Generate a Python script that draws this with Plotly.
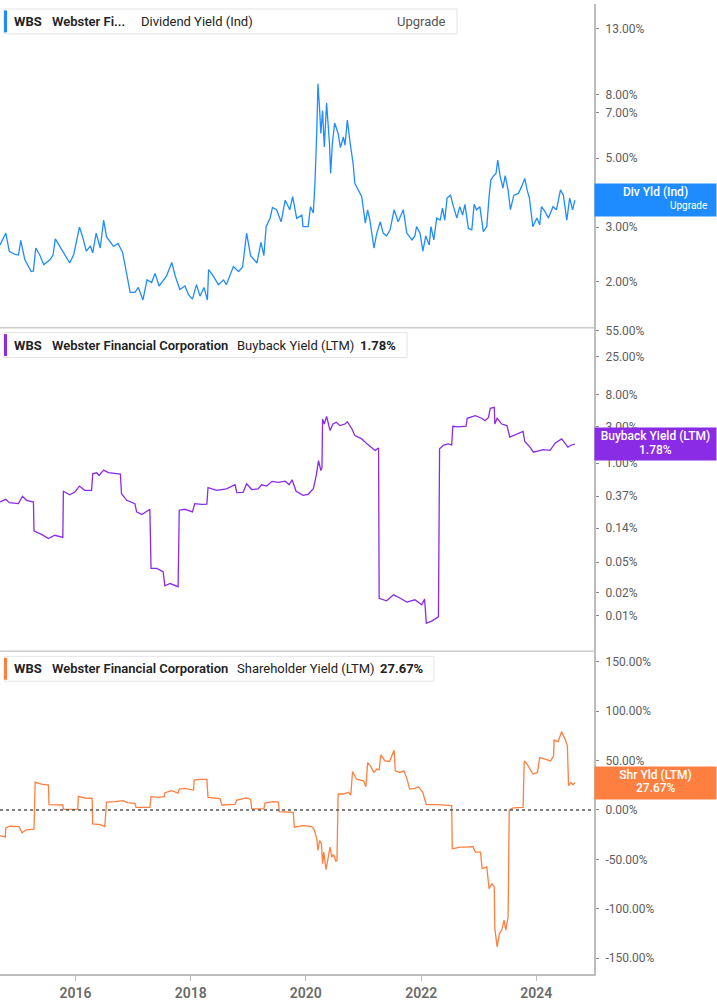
import numpy as np
import pandas as pd
import plotly.graph_objects as go

# Webster Financial Corporation (WBS) - dates as decimal years, values in %

# Dividend Yield (Ind)
div_years = [2014.69, 2014.79, 2014.85, 2014.95, 2015.01, 2015.05, 2015.12, 2015.23, 2015.27, 2015.31,
             2015.38, 2015.45, 2015.56, 2015.61, 2015.65, 2015.73, 2015.80, 2015.85, 2015.90, 2015.97,
             2016.07, 2016.12, 2016.19, 2016.26, 2016.30, 2016.36, 2016.43, 2016.49, 2016.54, 2016.66,
             2016.74, 2016.82, 2016.88, 2016.95, 2017.03, 2017.09, 2017.17, 2017.24, 2017.32, 2017.38,
             2017.45, 2017.52, 2017.58, 2017.67, 2017.73, 2017.81, 2017.90, 2017.96, 2018.03, 2018.10,
             2018.16, 2018.23, 2018.29, 2018.31, 2018.39, 2018.48, 2018.57, 2018.62, 2018.74, 2018.83,
             2018.90, 2018.97, 2019.04, 2019.15, 2019.22, 2019.27, 2019.31, 2019.38, 2019.42, 2019.49,
             2019.57, 2019.64, 2019.72, 2019.77, 2019.84, 2019.93, 2019.95, 2020.04, 2020.08, 2020.13,
             2020.16, 2020.19, 2020.21, 2020.24, 2020.26, 2020.29, 2020.32, 2020.36, 2020.41, 2020.43,
             2020.46, 2020.50, 2020.56, 2020.60, 2020.65, 2020.68, 2020.72, 2020.77, 2020.80, 2020.82,
             2020.85, 2020.91, 2020.97, 2021.03, 2021.07, 2021.11, 2021.18, 2021.23, 2021.29, 2021.34,
             2021.40, 2021.46, 2021.53, 2021.60, 2021.69, 2021.75, 2021.84, 2021.89, 2021.92, 2021.98,
             2022.03, 2022.08, 2022.14, 2022.17, 2022.22, 2022.27, 2022.33, 2022.37, 2022.41, 2022.45,
             2022.51, 2022.56, 2022.62, 2022.67, 2022.72, 2022.76, 2022.82, 2022.88, 2022.92, 2022.96,
             2023.02, 2023.08, 2023.14, 2023.18, 2023.21, 2023.26, 2023.30, 2023.33, 2023.37, 2023.42,
             2023.46, 2023.51, 2023.55, 2023.61, 2023.69, 2023.75, 2023.80, 2023.84, 2023.88, 2023.94,
             2024.01, 2024.06, 2024.09, 2024.15, 2024.21, 2024.29, 2024.35, 2024.42, 2024.47, 2024.53,
             2024.58, 2024.63, 2024.67]
div_vals = [2.63, 2.87, 2.51, 2.45, 2.44, 2.72, 2.36, 2.16, 2.17, 2.57,
            2.44, 2.27, 2.36, 2.44, 2.75, 2.60, 2.45, 2.37, 2.30, 2.45,
            3.00, 2.81, 2.51, 2.61, 2.48, 2.87, 2.57, 3.16, 2.79, 2.60,
            2.66, 2.48, 2.14, 1.85, 1.85, 1.92, 1.75, 2.03, 1.99, 2.13,
            1.94, 2.03, 2.09, 2.31, 2.09, 1.89, 1.94, 1.82, 1.76, 1.96,
            1.80, 1.92, 1.75, 2.19, 2.09, 1.96, 2.03, 1.96, 2.24, 2.16,
            2.23, 2.87, 2.43, 2.30, 2.68, 2.43, 3.01, 3.21, 3.47, 3.41,
            3.12, 3.66, 3.41, 3.76, 3.20, 3.28, 3.01, 3.01, 3.49, 3.33,
            4.25, 6.14, 8.67, 7.11, 6.00, 7.11, 5.43, 7.52, 5.57, 4.46,
            5.57, 6.48, 6.00, 5.40, 5.85, 5.50, 6.62, 5.57, 5.17, 4.81,
            4.15, 3.95, 3.76, 3.09, 3.41, 3.16, 2.57, 2.87, 3.12, 2.87,
            2.81, 2.94, 3.41, 3.12, 3.41, 2.87, 2.73, 2.81, 3.01, 2.87,
            2.51, 2.81, 2.63, 3.01, 2.73, 3.21, 3.16, 3.45, 3.16, 3.72,
            3.80, 3.49, 3.21, 3.49, 3.28, 3.55, 2.97, 2.94, 3.55, 3.41,
            3.49, 2.90, 3.01, 3.76, 4.25, 4.39, 4.46, 4.93, 4.39, 4.00,
            4.39, 3.95, 3.41, 3.80, 3.85, 4.07, 4.30, 3.95, 3.72, 3.01,
            3.21, 3.05, 3.49, 3.37, 3.21, 3.49, 3.41, 3.95, 3.80, 3.16,
            3.72, 3.41, 3.66]

# Buyback Yield (LTM)
bb_years = [2014.69, 2014.79, 2014.85, 2015.01, 2015.08, 2015.15, 2015.27, 2015.28, 2015.41, 2015.53,
            2015.64, 2015.78, 2015.79, 2015.90, 2015.99, 2016.07, 2016.16, 2016.28, 2016.30, 2016.37,
            2016.41, 2016.49, 2016.57, 2016.78, 2016.80, 2016.89, 2017.03, 2017.06, 2017.15, 2017.24,
            2017.29, 2017.31, 2017.41, 2017.52, 2017.55, 2017.64, 2017.78, 2017.80, 2017.90, 2018.03,
            2018.07, 2018.19, 2018.28, 2018.30, 2018.45, 2018.62, 2018.77, 2018.80, 2018.91, 2018.97,
            2019.06, 2019.17, 2019.23, 2019.32, 2019.41, 2019.52, 2019.64, 2019.71, 2019.76, 2019.83,
            2019.95, 2020.04, 2020.13, 2020.18, 2020.22, 2020.26, 2020.28, 2020.29, 2020.32, 2020.36,
            2020.42, 2020.47, 2020.53, 2020.59, 2020.68, 2020.72, 2020.80, 2020.85, 2020.97, 2021.06,
            2021.14, 2021.20, 2021.26, 2021.27, 2021.40, 2021.52, 2021.63, 2021.75, 2021.89, 2022.01,
            2022.06, 2022.09, 2022.19, 2022.30, 2022.32, 2022.39, 2022.47, 2022.53, 2022.55, 2022.65,
            2022.78, 2022.80, 2022.94, 2023.05, 2023.11, 2023.17, 2023.20, 2023.27, 2023.28, 2023.32,
            2023.40, 2023.49, 2023.54, 2023.66, 2023.77, 2023.80, 2023.89, 2023.95, 2024.06, 2024.12,
            2024.24, 2024.33, 2024.44, 2024.55, 2024.61, 2024.67]
bb_vals = [0.309, 0.335, 0.303, 0.294, 0.367, 0.325, 0.309, 0.128, 0.116, 0.1025,
           0.113, 0.106, 0.427, 0.385, 0.418, 0.50, 0.44, 0.44, 0.725, 0.747,
           0.69, 0.81, 0.75, 0.718, 0.397, 0.325, 0.294, 0.229, 0.211, 0.233,
           0.248, 0.0416, 0.0416, 0.0376, 0.0245, 0.0263, 0.0239, 0.241, 0.248, 0.229,
           0.294, 0.287, 0.29, 0.476, 0.44, 0.46, 0.52, 0.41, 0.414, 0.536,
           0.45, 0.46, 0.52, 0.50, 0.577, 0.56, 0.58, 0.52, 0.605, 0.427,
           0.378, 0.39, 0.461, 0.69, 1.08, 0.80, 0.88, 3.79, 3.26, 4.11,
           2.68, 3.26, 3.44, 3.11, 3.26, 3.50, 2.81, 2.30, 2.08, 1.79,
           1.62, 1.47, 1.58, 0.0168, 0.0156, 0.0187, 0.0170, 0.0150, 0.0161, 0.0138,
           0.0164, 0.0079, 0.0085, 0.0096, 1.54, 1.73, 1.79, 1.73, 3.05, 3.00,
           3.05, 3.88, 4.20, 3.88, 3.60, 3.98, 5.24, 5.40, 3.26, 3.88,
           3.26, 3.11, 2.19, 2.42, 2.60, 1.92, 1.62, 1.39, 1.47, 1.50,
           1.47, 1.84, 2.08, 1.62, 1.73, 1.78]

# Shareholder Yield (LTM)
shy_years = [2014.69, 2014.78, 2014.79, 2014.86, 2015.02, 2015.07, 2015.15, 2015.28, 2015.30, 2015.41,
             2015.53, 2015.54, 2015.78, 2015.79, 2016.04, 2016.05, 2016.16, 2016.29, 2016.30, 2016.43,
             2016.51, 2016.54, 2016.69, 2016.83, 2016.90, 2017.03, 2017.05, 2017.29, 2017.31, 2017.44,
             2017.54, 2017.55, 2017.67, 2017.78, 2017.80, 2017.90, 2018.05, 2018.06, 2018.16, 2018.28,
             2018.30, 2018.51, 2018.54, 2018.77, 2018.80, 2018.97, 2019.04, 2019.06, 2019.27, 2019.29,
             2019.43, 2019.52, 2019.54, 2019.78, 2019.80, 2019.95, 2020.10, 2020.14, 2020.19, 2020.21,
             2020.24, 2020.27, 2020.29, 2020.31, 2020.35, 2020.39, 2020.42, 2020.45, 2020.48, 2020.52,
             2020.54, 2020.56, 2020.65, 2020.74, 2020.78, 2020.81, 2020.88, 2021.00, 2021.04, 2021.07,
             2021.12, 2021.18, 2021.23, 2021.27, 2021.30, 2021.37, 2021.45, 2021.49, 2021.53, 2021.55,
             2021.63, 2021.70, 2021.75, 2021.80, 2021.89, 2021.95, 2022.03, 2022.06, 2022.09, 2022.27,
             2022.44, 2022.53, 2022.54, 2022.68, 2022.79, 2022.90, 2022.94, 2023.03, 2023.06, 2023.14,
             2023.18, 2023.23, 2023.27, 2023.28, 2023.32, 2023.36, 2023.40, 2023.44, 2023.47, 2023.51,
             2023.53, 2023.60, 2023.77, 2023.79, 2023.84, 2023.94, 2024.02, 2024.06, 2024.15, 2024.25,
             2024.30, 2024.31, 2024.38, 2024.44, 2024.50, 2024.54, 2024.56, 2024.60, 2024.64, 2024.67]
shy_vals = [-25.9, -27.6, -18.1, -16.5, -16.8, -23.2, -20.1, -19.5, 28.2, 26.2,
            25.2, 5.3, 5.0, 0.6, 0.6, 13.7, 12.1, 11.7, -14.1, -14.8,
            -16.8, 8.0, 8.4, 9.4, 7.4, 6.7, 2.7, 2.7, 13.4, 12.8,
            13.4, 17.4, 19.5, 17.1, 21.1, 21.8, 20.1, 30.2, 30.9, 30.9,
            12.7, 11.4, 5.0, 5.7, 10.0, 12.1, 10.7, 1.0, 1.0, 7.0,
            8.4, 8.0, -1.7, -2.4, -17.5, -15.8, -16.8, -19.2, -29.2, -41.0,
            -30.9, -34.3, -54.4, -42.7, -60.4, -47.7, -37.7, -47.7, -45.0, -51.7,
            -51.1, 16.1, 16.1, 17.8, 15.1, 38.9, 31.1, 29.5, 23.5, 47.9,
            44.6, 37.9, 41.3, 40.6, 55.7, 49.6, 49.0, 54.7, 60.4, 39.6,
            37.9, 39.6, 32.2, 21.1, 21.8, 23.5, 17.8, 11.1, 5.3, 5.3,
            4.3, 4.3, -39.3, -37.6, -37.6, -37.0, -42.6, -42.6, -59.4, -57.7,
            -79.6, -74.5, -77.9, -119.8, -138.4, -125.0, -121.5, -111.5, -121.5, -108.2,
            0.0, 2.0, 2.7, 49.6, 46.3, 36.3, 37.9, 53.0, 51.3, 49.6,
            54.7, 70.5, 69.1, 79.2, 71.5, 64.8, 24.5, 27.8, 25.5, 27.67]

# axis ticks
div_ticks = [2, 3, 5, 7, 8, 13]
div_ticktext = ["2.00%", "3.00%", "5.00%", "7.00%", "8.00%", "13.00%"]
bb_ticks = [0.01, 0.02, 0.05, 0.14, 0.37, 1, 3, 8, 25, 55]
bb_ticktext = ["0.01%", "0.02%", "0.05%", "0.14%", "0.37%", "1.00%", "3.00%", "8.00%", "25.00%", "55.00%"]
shy_ticks = [-150, -100, -50, 0, 50, 100, 150]
shy_ticktext = ["-150.00%", "-100.00%", "-50.00%", "0.00%", "50.00%", "100.00%", "150.00%"]

BLUE = "#1e8cff"
PURPLE = "#8a2be6"
ORANGE = "#ff7f40"
GRID = "#bdbdbd"
TXT = "#5e5e5e"
FONT = "Roboto"

W, H = 717, 1005
PW, PH = 594, 974  # plot area in px


def to_date(years):
    years = np.asarray(years, dtype=float)
    yr = np.floor(years).astype(int)
    start = pd.to_datetime([f"{y}-01-01" for y in yr])
    return start + pd.to_timedelta((years - yr) * 365.25, unit="D")


def px(x):
    return x / PW


def py(y):
    return 1 - y / PH


fig = go.Figure()
fig.add_trace(go.Scatter(x=to_date(div_years), y=div_vals, mode="lines",
                         line=dict(color=BLUE, width=1.3), yaxis="y", showlegend=False))
fig.add_trace(go.Scatter(x=to_date(bb_years), y=bb_vals, mode="lines",
                         line=dict(color=PURPLE, width=1.3), yaxis="y2", showlegend=False))
fig.add_trace(go.Scatter(x=to_date(shy_years), y=shy_vals, mode="lines",
                         line=dict(color=ORANGE, width=1.3), yaxis="y3", showlegend=False))

yax = dict(side="right", anchor="x", showline=True, linecolor=GRID, linewidth=2,
           showgrid=False, zeroline=False, ticks="outside", ticklen=3, tickcolor="#8a8a8a",
           tickfont=dict(family=FONT, size=12, color=TXT), ticklabelstandoff=4)

d1 = py(325)
d2 = py(650)

fig.update_layout(
    width=W, height=H,
    margin=dict(l=0, r=W - PW, t=0, b=H - PH),
    plot_bgcolor="white", paper_bgcolor="white",
    font=dict(family=FONT),
    xaxis=dict(domain=[0, 1], anchor="y3", range=[to_date([2014.689])[0], "2025-01-01"],
               showline=True, linecolor=GRID, linewidth=2, showgrid=False, zeroline=False,
               ticks="outside", ticklen=5, tickcolor=GRID, tickformat="%Y",
               dtick="M24", tick0="2016-01-01",
               tickfont=dict(family=FONT, size=14, color="#6a6a6a", weight=600)),
    yaxis=dict(domain=[d1, 1], type="log", range=[0.154, 1.194],
               tickmode="array", tickvals=div_ticks, ticktext=div_ticktext, **yax),
    yaxis2=dict(domain=[d2, d1], type="log", range=[-2.47, 1.778],
                tickmode="array", tickvals=bb_ticks, ticktext=bb_ticktext, **yax),
    yaxis3=dict(domain=[0, d2], range=[-165.9, 160.4],
                tickmode="array", tickvals=shy_ticks, ticktext=shy_ticktext, **yax),
)

shapes = []
# panel separators
for yy in (325, 650):
    shapes.append(dict(type="line", xref="paper", yref="paper", x0=0, x1=1, y0=py(yy), y1=py(yy),
                       line=dict(color="#cccccc", width=1.5)))
# zero line in shareholder yield panel
shapes.append(dict(type="line", xref="paper", yref="y3", x0=0, x1=1, y0=0, y1=0,
                   line=dict(color="#555555", width=1.5, dash="dot")))

# legend boxes (top-left of each panel)
boxes = [(5, 457, BLUE), (330, 407, PURPLE), (655, 434, ORANGE)]
for top, right, col in boxes:
    shapes.append(dict(type="rect", xref="paper", yref="paper", x0=px(4), x1=px(right),
                       y0=py(top), y1=py(top + 25), fillcolor="white",
                       line=dict(color="#e4e4e4", width=1)))
    shapes.append(dict(type="rect", xref="paper", yref="paper", x0=px(4), x1=px(7),
                       y0=py(top + 1.5), y1=py(top + 23.5), fillcolor=col, line=dict(width=0)))
fig.update_layout(shapes=shapes)

ann = []


def label(x, y, text, color="#222222", size=13, weight=None):
    f = dict(family=FONT, size=size, color=color)
    if weight:
        f["weight"] = weight
    ann.append(dict(xref="paper", yref="paper", x=px(x), y=py(y), xanchor="left", yanchor="middle",
                    text=text, showarrow=False, font=f))


rows = [
    (17.5, "Webster Fi...", "Dividend Yield (Ind)", 139, None, None),
    (342.5, "Webster Financial Corporation", "Buyback Yield (LTM)", 235, "1.78%", 358),
    (667.5, "Webster Financial Corporation", "Shareholder Yield (LTM)", 235, "27.67%", 378),
]
for yy, name, metric, mx, val, vx in rows:
    label(12, yy, "WBS", weight=700)
    label(50, yy, name, weight=600)
    label(mx, yy, metric)
    if val:
        label(vx, yy, val, weight=700)
label(395, 17.5, "Upgrade", color="#555555")

# right-side value tags
tags = [
    ("y", np.log10(div_vals[-1]), "Div Yld (Ind)", None, BLUE),
    ("y2", np.log10(bb_vals[-1]), "Buyback Yield (LTM)", "1.78%", PURPLE),
    ("y3", shy_vals[-1], "Shr Yld (LTM)", "27.67%", ORANGE),
]
for yref, yv, head, sub, col in tags:
    ann.append(dict(xref="paper", yref=yref, x=1, y=yv, xanchor="left", yanchor="middle",
                    text=head, showarrow=False, width=W - PW - 4, height=30, valign="top",
                    bgcolor=col, borderpad=1,
                    font=dict(family=FONT, size=12, color="white", weight=500)))
    if sub:
        ann.append(dict(xref="paper", yref=yref, x=px((PW + W) / 2), y=yv, xanchor="center",
                        yanchor="middle", yshift=-5.5, text=sub, showarrow=False,
                        font=dict(family=FONT, size=12, color="white", weight=500)))
    else:
        ann.append(dict(xref="paper", yref=yref, x=px(W - 8), y=yv, xanchor="right",
                        yanchor="middle", yshift=-5, text="Upgrade", showarrow=False,
                        font=dict(family=FONT, size=10, color="white")))
fig.update_layout(annotations=ann)

# page has a default body margin; drop it so the figure sits at the window corner
fig.write_html("out.html", config={"displayModeBar": False},
               post_script="document.body.style.margin='0';")
